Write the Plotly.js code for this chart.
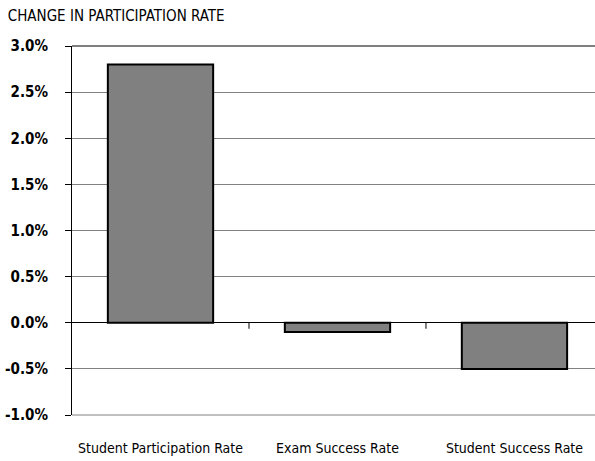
<!DOCTYPE html>
<html>
<head>
<meta charset="utf-8">
<script src="https://cdn.plot.ly/plotly-3.0.1.min.js"></script>
<style>html,body{margin:0;padding:0;overflow:hidden;background:#fff}</style>
</head>
<body>
<div id="chart" style="width:595px;height:461px"></div>
<script>
var categories = ["Student Participation Rate", "Exam Success Rate", "Student Success Rate"];
var changeValues = [0.028, -0.001, -0.005];
var yTickValues = [-0.01, -0.005, 0, 0.005, 0.01, 0.015, 0.02, 0.025, 0.03];
var yTickLabels = ["-1.0%", "-0.5%", "0.0%", "0.5%", "1.0%", "1.5%", "2.0%", "2.5%", "3.0%"];
var chartTitle = "CHANGE IN PARTICIPATION RATE";
var boundaryPositions = [0.5, 1.5];

var font = "'DejaVu Sans Condensed', 'Liberation Sans Narrow', sans-serif";

var trace = {
  type: "bar",
  x: categories,
  y: changeValues,
  width: 0.595,
  marker: {color: "#808080", line: {color: "#000000", width: 2}},
  hoverinfo: "none"
};

var shapes = [
  {type: "line", xref: "paper", yref: "paper", x0: 0, x1: 1, y0: 1, y1: 1,
   line: {color: "#000000", width: 1}},
  {type: "line", xref: "paper", yref: "paper", x0: 0, x1: 1, y0: 0, y1: 0,
   line: {color: "#808080", width: 1}}
];
boundaryPositions.forEach(function (b) {
  shapes.push({type: "line", xref: "x", yref: "y", ysizemode: "pixel", yanchor: 0,
    x0: b, x1: b, y0: 0, y1: -6, line: {color: "#000000", width: 1}});
});

var layout = {
  width: 595, height: 461,
  margin: {l: 72, r: 0, t: 46, b: 46},
  paper_bgcolor: "#ffffff", plot_bgcolor: "#ffffff",
  showlegend: false,
  title: {text: chartTitle, x: 0.013, xanchor: "left", y: 0.965, yanchor: "middle",
    font: {family: font, size: 15, color: "#000000"}},
  font: {family: font, color: "#000000"},
  xaxis: {
    type: "category",
    range: [-0.5, 2.455],
    showgrid: false, zeroline: false, showline: false,
    ticks: "", ticklabelstandoff: 23,
    tickfont: {family: font, size: 14, color: "#000000"},
    fixedrange: true
  },
  yaxis: {
    range: [-0.01, 0.03],
    tickvals: yTickValues, ticktext: yTickLabels,
    showgrid: true, gridcolor: "#808080", gridwidth: 1,
    zeroline: true, zerolinecolor: "#000000", zerolinewidth: 1,
    showline: true, linecolor: "#000000", linewidth: 1,
    ticks: "outside", ticklen: 6, tickcolor: "#000000",
    ticklabelstandoff: 14,
    tickfont: {family: font, size: 15, color: "#000000", weight: "bold"},
    fixedrange: true
  },
  shapes: shapes
};

Plotly.newPlot("chart", [trace], layout, {staticPlot: true, displayModeBar: false});
</script>
</body>
</html>
